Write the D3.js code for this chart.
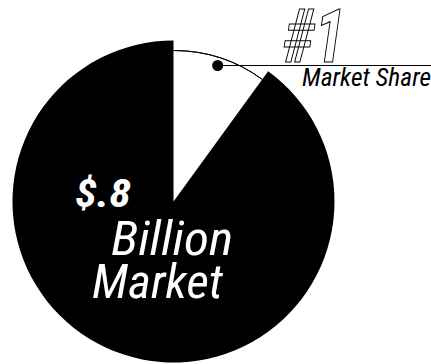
<!DOCTYPE html>
<html>
<head>
<meta charset="utf-8">
<script src="https://cdn.jsdelivr.net/npm/d3@7/dist/d3.min.js"></script>
<style>
  html, body { margin: 0; padding: 0; background: #fff; }
  svg { display: block; }
  text { font-family: "Liberation Sans Narrow", "Arial Narrow", "Roboto Condensed", Roboto, "Liberation Sans", sans-serif; }
</style>
</head>
<body>
<svg id="chart" width="431" height="364"></svg>
<script>
// Market split: leading company's share vs. the rest of the market (percent)
const categories = ["#1 Market Share", "Rest of Market"];
const shares = [10, 90];
const marketSize = ["$.8", "Billion", "Market"];
const shareLabel = ["#1", "Market Share"];

const W = 431, H = 364;
const cx = 173.5, cy = 201.5, R = 161, rInner = 151;

const svg = d3.select("#chart");
const g = svg.append("g").attr("transform", `translate(${cx},${cy})`);

const pie = d3.pie().sort(null).value(d => d.value);
const arcs = pie(categories.map((c, i) => ({ name: c, value: shares[i] })));

const fullArc = d3.arc().innerRadius(0).outerRadius(R);
const thinArc = d3.arc().innerRadius(rInner).outerRadius(rInner);

// The rest of the market: solid black slice
g.append("path")
  .attr("d", fullArc(arcs[1]))
  .attr("fill", "#000");

// The leader's slice: left white, traced only along its rim
g.append("path")
  .attr("d", thinArc(arcs[0]))
  .attr("fill", "none")
  .attr("stroke", "#000")
  .attr("stroke-width", 1);

// Callout dot at the middle of the white slice, leading out to the label
const [dotX, dotY] = d3.arc().innerRadius(143).outerRadius(143).centroid(arcs[0]);
const dx = cx + dotX, dy = cy + dotY;
svg.append("line")
  .attr("x1", dx).attr("y1", dy)
  .attr("x2", W).attr("y2", dy)
  .attr("stroke", "#000").attr("stroke-width", 1);
svg.append("circle")
  .attr("cx", dx).attr("cy", dy).attr("r", 5.5)
  .attr("fill", "#000");

// "#1" in outlined type
svg.append("text")
  .attr("x", 283).attr("y", 62)
  .attr("font-size", 74)
  .attr("font-weight", "bold")
  .attr("font-style", "italic")
  .attr("fill", "#fff")
  .attr("stroke", "#000")
  .attr("stroke-width", 1.1)
  .attr("textLength", 62)
  .attr("lengthAdjust", "spacingAndGlyphs")
  .text(shareLabel[0]);

svg.append("text")
  .attr("x", 302).attr("y", 86)
  .attr("font-size", 25)
  .attr("font-style", "italic")
  .attr("fill", "#000")
  .attr("textLength", 129)
  .attr("lengthAdjust", "spacingAndGlyphs")
  .text(shareLabel[1]);

// Market size label, white on black
svg.append("text")
  .attr("x", 75).attr("y", 207)
  .attr("font-size", 38)
  .attr("font-weight", "bold")
  .attr("font-style", "italic")
  .attr("fill", "#fff")
  .attr("textLength", 56)
  .attr("lengthAdjust", "spacingAndGlyphs")
  .text(marketSize[0]);

svg.append("text")
  .attr("x", 111).attr("y", 255)
  .attr("font-size", 48)
  .attr("font-style", "italic")
  .attr("fill", "#fff")
  .attr("textLength", 122)
  .attr("lengthAdjust", "spacingAndGlyphs")
  .text(marketSize[1]);

svg.append("text")
  .attr("x", 92).attr("y", 298)
  .attr("font-size", 47)
  .attr("font-style", "italic")
  .attr("fill", "#fff")
  .attr("textLength", 131)
  .attr("lengthAdjust", "spacingAndGlyphs")
  .text(marketSize[2]);
</script>
</body>
</html>
